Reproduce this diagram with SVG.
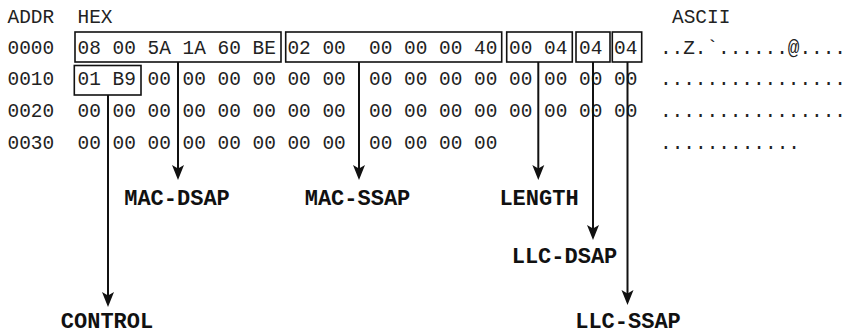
<svg xmlns="http://www.w3.org/2000/svg" width="848" height="334" viewBox="0 0 848 334">
<style>
.t{font-family:"Liberation Mono","Courier New",monospace;font-size:19.45px;fill:#222;white-space:pre}
.l{font-family:"Liberation Mono","Courier New",monospace;font-size:22px;font-weight:bold;fill:#111;text-anchor:middle}
.b{fill:none;stroke:#111;stroke-width:1.6}
.c{stroke:#111;stroke-width:2;fill:none;marker-end:url(#arr)}
</style>
<defs>
<marker id="arr" viewBox="-1 -7 17 14" refX="11" refY="0" markerWidth="17" markerHeight="14" markerUnits="userSpaceOnUse" orient="auto">
<path d="M0,-6 L15,0 L0,6 L3.5,0 Z" fill="#111"/>
</marker>
</defs>
<g id="dump">
<text class="t" x="7.5" y="22.5">ADDR</text>
<text class="t" x="77.5" y="22.5">HEX</text>
<text class="t" x="672" y="22.5">ASCII</text>
<text class="t" x="7.5" y="53.5">0000</text>
<text class="t" x="7.5" y="85">0010</text>
<text class="t" x="7.5" y="117">0020</text>
<text class="t" x="7.5" y="148.5">0030</text>
<text class="t" x="77.5" y="53.5" xml:space="preserve">08 00 5A 1A 60 BE 02 00  00 00 00 40 00 04 04 04</text>
<text class="t" x="77.5" y="85" xml:space="preserve">01 B9 00 00 00 00 00 00  00 00 00 00 00 00 00 00</text>
<text class="t" x="77.5" y="117" xml:space="preserve">00 00 00 00 00 00 00 00  00 00 00 00 00 00 00 00</text>
<text class="t" x="77.5" y="148.5" xml:space="preserve">00 00 00 00 00 00 00 00  00 00 00 00</text>
<text class="t" x="660" y="53.5" textLength="186" lengthAdjust="spacing">..Z.`......@....</text>
<text class="t" x="660" y="85" textLength="186" lengthAdjust="spacing">................</text>
<text class="t" x="660" y="117" textLength="186" lengthAdjust="spacing">................</text>
<text class="t" x="660" y="148.5">............</text>
</g>
<g id="mac-dsap-field"><rect class="b" x="75" y="32" width="206" height="30"/></g>
<g id="mac-ssap-field"><rect class="b" x="285.7" y="32" width="216" height="30"/></g>
<g id="length-field"><rect class="b" x="506.7" y="32" width="65.6" height="30"/></g>
<g id="llc-dsap-field"><rect class="b" x="576" y="32" width="34" height="30"/></g>
<g id="llc-ssap-field"><rect class="b" x="612.3" y="32" width="29.4" height="30"/></g>
<g id="control-field"><rect class="b" x="74.3" y="65.5" width="66.7" height="29.5"/></g>
<g id="connectors">
<line class="c" x1="178" y1="62" x2="178" y2="176"/>
<line class="c" x1="359" y1="62" x2="359" y2="176"/>
<line class="c" x1="538.3" y1="62" x2="538.3" y2="176"/>
<line class="c" x1="593" y1="62" x2="593" y2="236"/>
<line class="c" x1="627.5" y1="62" x2="627.5" y2="301"/>
<line class="c" x1="108" y1="95" x2="108" y2="303"/>
</g>
<g id="label-mac-dsap"><text class="l" x="177" y="205">MAC-DSAP</text></g>
<g id="label-mac-ssap"><text class="l" x="357.5" y="205">MAC-SSAP</text></g>
<g id="label-length"><text class="l" x="539" y="205">LENGTH</text></g>
<g id="label-llc-dsap"><text class="l" x="564.5" y="263">LLC-DSAP</text></g>
<g id="label-llc-ssap"><text class="l" x="628" y="328">LLC-SSAP</text></g>
<g id="label-control"><text class="l" x="107" y="328">CONTROL</text></g>
</svg>
